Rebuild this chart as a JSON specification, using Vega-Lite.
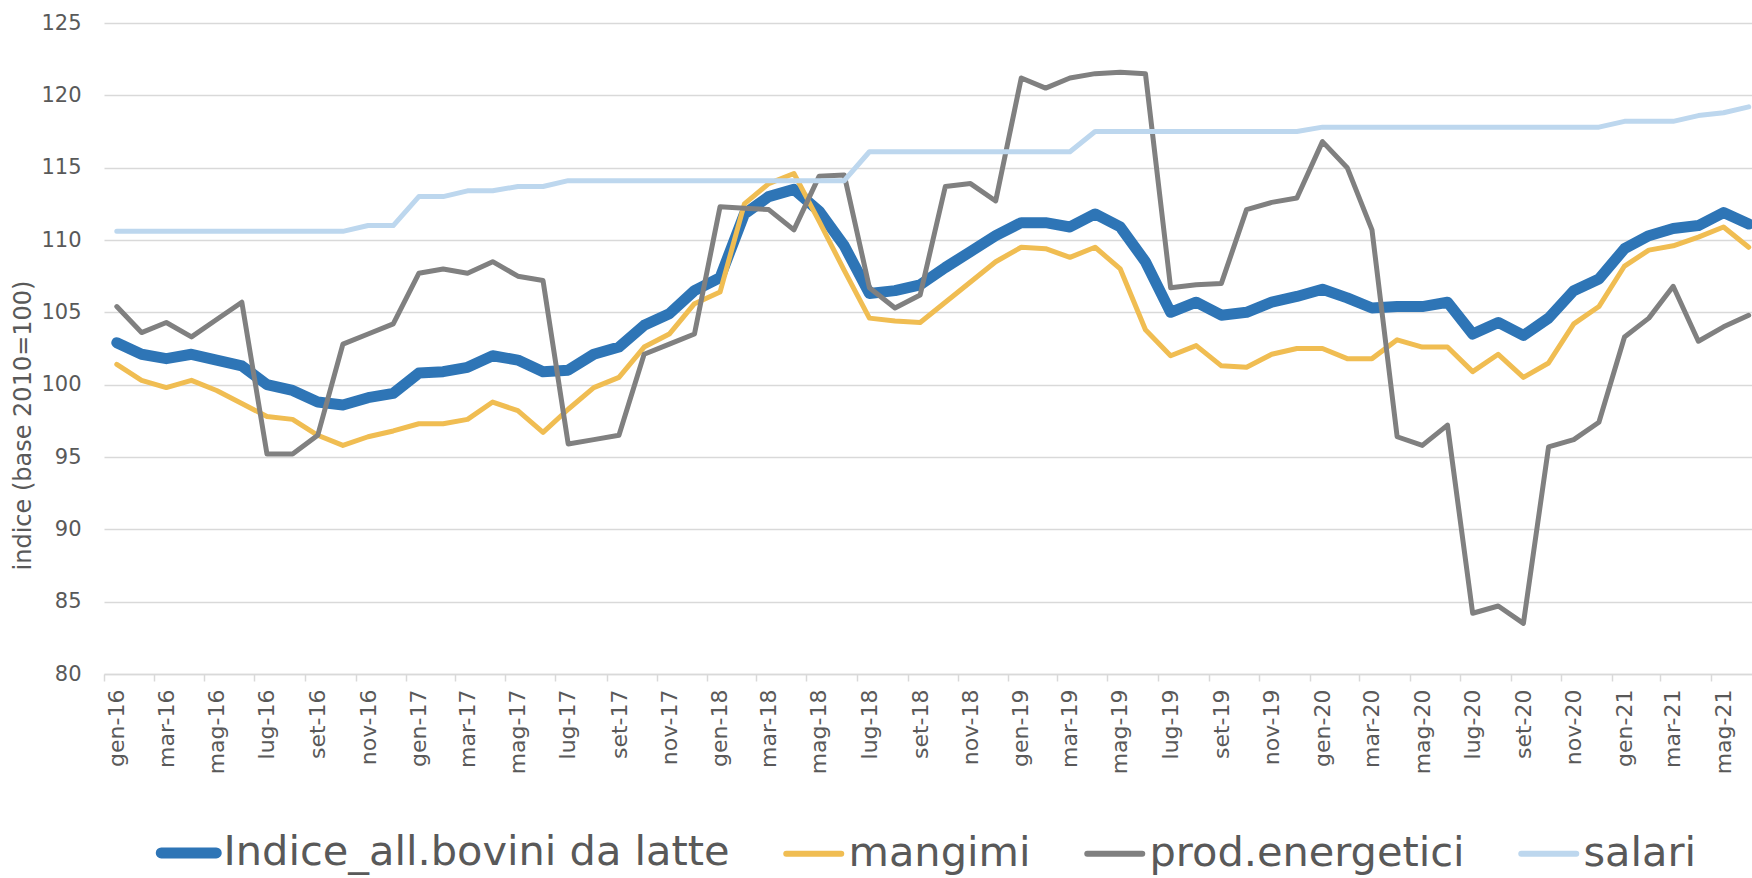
{
  "$schema": "https://vega.github.io/schema/vega-lite/v6.json",
  "autosize": {"type": "none"},
  "padding": {"left": 104, "top": 23, "right": 0, "bottom": 204},
  "width": 1648,
  "height": 651,
  "background": "white",
  "config": {
    "view": {"stroke": null},
    "font": "DejaVu Sans"
  },
  "data": {
    "format": {"parse": {"mese": "date:'%Y-%m'"}},
    "values": [
      {"mese": "2016-01", "indice": 102.9, "mangimi": 101.4, "energia": 105.4, "salari": 110.6},
      {"mese": "2016-02", "indice": 102.1, "mangimi": 100.3, "energia": 103.6, "salari": 110.6},
      {"mese": "2016-03", "indice": 101.8, "mangimi": 99.8, "energia": 104.3, "salari": 110.6},
      {"mese": "2016-04", "indice": 102.1, "mangimi": 100.3, "energia": 103.3, "salari": 110.6},
      {"mese": "2016-05", "indice": 101.7, "mangimi": 99.6, "energia": 104.5, "salari": 110.6},
      {"mese": "2016-06", "indice": 101.3, "mangimi": 98.7, "energia": 105.7, "salari": 110.6},
      {"mese": "2016-07", "indice": 100.0, "mangimi": 97.8, "energia": 95.2, "salari": 110.6},
      {"mese": "2016-08", "indice": 99.6, "mangimi": 97.6, "energia": 95.2, "salari": 110.6},
      {"mese": "2016-09", "indice": 98.8, "mangimi": 96.5, "energia": 96.5, "salari": 110.6},
      {"mese": "2016-10", "indice": 98.6, "mangimi": 95.8, "energia": 102.8, "salari": 110.6},
      {"mese": "2016-11", "indice": 99.1, "mangimi": 96.4, "energia": 103.5, "salari": 111.0},
      {"mese": "2016-12", "indice": 99.4, "mangimi": 96.8, "energia": 104.2, "salari": 111.0},
      {"mese": "2017-01", "indice": 100.8, "mangimi": 97.3, "energia": 107.7, "salari": 113.0},
      {"mese": "2017-02", "indice": 100.9, "mangimi": 97.3, "energia": 108.0, "salari": 113.0},
      {"mese": "2017-03", "indice": 101.2, "mangimi": 97.6, "energia": 107.7, "salari": 113.4},
      {"mese": "2017-04", "indice": 102.0, "mangimi": 98.8, "energia": 108.5, "salari": 113.4},
      {"mese": "2017-05", "indice": 101.7, "mangimi": 98.2, "energia": 107.5, "salari": 113.7},
      {"mese": "2017-06", "indice": 100.9, "mangimi": 96.7, "energia": 107.2, "salari": 113.7},
      {"mese": "2017-07", "indice": 101.0, "mangimi": 98.3, "energia": 95.9, "salari": 114.1},
      {"mese": "2017-08", "indice": 102.1, "mangimi": 99.8, "energia": 96.2, "salari": 114.1},
      {"mese": "2017-09", "indice": 102.6, "mangimi": 100.5, "energia": 96.5, "salari": 114.1},
      {"mese": "2017-10", "indice": 104.1, "mangimi": 102.6, "energia": 102.1, "salari": 114.1},
      {"mese": "2017-11", "indice": 104.9, "mangimi": 103.5, "energia": 102.8, "salari": 114.1},
      {"mese": "2017-12", "indice": 106.5, "mangimi": 105.6, "energia": 103.5, "salari": 114.1},
      {"mese": "2018-01", "indice": 107.4, "mangimi": 106.4, "energia": 112.3, "salari": 114.1},
      {"mese": "2018-02", "indice": 111.8, "mangimi": 112.5, "energia": 112.2, "salari": 114.1},
      {"mese": "2018-03", "indice": 113.0, "mangimi": 113.9, "energia": 112.1, "salari": 114.1},
      {"mese": "2018-04", "indice": 113.5, "mangimi": 114.6, "energia": 110.7, "salari": 114.1},
      {"mese": "2018-05", "indice": 112.0, "mangimi": 111.3, "energia": 114.4, "salari": 114.1},
      {"mese": "2018-06", "indice": 109.6, "mangimi": 107.9, "energia": 114.5, "salari": 114.1},
      {"mese": "2018-07", "indice": 106.3, "mangimi": 104.6, "energia": 106.7, "salari": 116.1},
      {"mese": "2018-08", "indice": 106.5, "mangimi": 104.4, "energia": 105.3, "salari": 116.1},
      {"mese": "2018-09", "indice": 106.9, "mangimi": 104.3, "energia": 106.2, "salari": 116.1},
      {"mese": "2018-10", "indice": 108.1, "mangimi": 105.7, "energia": 113.7, "salari": 116.1},
      {"mese": "2018-11", "indice": 109.2, "mangimi": 107.1, "energia": 113.9, "salari": 116.1},
      {"mese": "2018-12", "indice": 110.3, "mangimi": 108.5, "energia": 112.7, "salari": 116.1},
      {"mese": "2019-01", "indice": 111.2, "mangimi": 109.5, "energia": 121.2, "salari": 116.1},
      {"mese": "2019-02", "indice": 111.2, "mangimi": 109.4, "energia": 120.5, "salari": 116.1},
      {"mese": "2019-03", "indice": 110.9, "mangimi": 108.8, "energia": 121.2, "salari": 116.1},
      {"mese": "2019-04", "indice": 111.8, "mangimi": 109.5, "energia": 121.5, "salari": 117.5},
      {"mese": "2019-05", "indice": 110.9, "mangimi": 108.0, "energia": 121.6, "salari": 117.5},
      {"mese": "2019-06", "indice": 108.5, "mangimi": 103.8, "energia": 121.5, "salari": 117.5},
      {"mese": "2019-07", "indice": 105.0, "mangimi": 102.0, "energia": 106.7, "salari": 117.5},
      {"mese": "2019-08", "indice": 105.7, "mangimi": 102.7, "energia": 106.9, "salari": 117.5},
      {"mese": "2019-09", "indice": 104.8, "mangimi": 101.3, "energia": 107.0, "salari": 117.5},
      {"mese": "2019-10", "indice": 105.0, "mangimi": 101.2, "energia": 112.1, "salari": 117.5},
      {"mese": "2019-11", "indice": 105.7, "mangimi": 102.1, "energia": 112.6, "salari": 117.5},
      {"mese": "2019-12", "indice": 106.1, "mangimi": 102.5, "energia": 112.9, "salari": 117.5},
      {"mese": "2020-01", "indice": 106.6, "mangimi": 102.5, "energia": 116.8, "salari": 117.8},
      {"mese": "2020-02", "indice": 106.0, "mangimi": 101.8, "energia": 115.0, "salari": 117.8},
      {"mese": "2020-03", "indice": 105.3, "mangimi": 101.8, "energia": 110.7, "salari": 117.8},
      {"mese": "2020-04", "indice": 105.4, "mangimi": 103.1, "energia": 96.4, "salari": 117.8},
      {"mese": "2020-05", "indice": 105.4, "mangimi": 102.6, "energia": 95.8, "salari": 117.8},
      {"mese": "2020-06", "indice": 105.7, "mangimi": 102.6, "energia": 97.2, "salari": 117.8},
      {"mese": "2020-07", "indice": 103.5, "mangimi": 100.9, "energia": 84.2, "salari": 117.8},
      {"mese": "2020-08", "indice": 104.3, "mangimi": 102.1, "energia": 84.7, "salari": 117.8},
      {"mese": "2020-09", "indice": 103.4, "mangimi": 100.5, "energia": 83.5, "salari": 117.8},
      {"mese": "2020-10", "indice": 104.6, "mangimi": 101.5, "energia": 95.7, "salari": 117.8},
      {"mese": "2020-11", "indice": 106.5, "mangimi": 104.2, "energia": 96.2, "salari": 117.8},
      {"mese": "2020-12", "indice": 107.3, "mangimi": 105.4, "energia": 97.4, "salari": 117.8},
      {"mese": "2021-01", "indice": 109.4, "mangimi": 108.2, "energia": 103.3, "salari": 118.2},
      {"mese": "2021-02", "indice": 110.3, "mangimi": 109.3, "energia": 104.6, "salari": 118.2},
      {"mese": "2021-03", "indice": 110.8, "mangimi": 109.6, "energia": 106.8, "salari": 118.2},
      {"mese": "2021-04", "indice": 111.0, "mangimi": 110.2, "energia": 103.0, "salari": 118.6},
      {"mese": "2021-05", "indice": 111.9, "mangimi": 110.9, "energia": 104.0, "salari": 118.8},
      {"mese": "2021-06", "indice": 111.1, "mangimi": 109.5, "energia": 104.8, "salari": 119.2}
    ]
  },
  "transform": [
    {"fold": ["indice", "mangimi", "energia", "salari"], "as": ["serie", "valore"]}
  ],
  "encoding": {
    "x": {
      "field": "mese",
      "timeUnit": "yearmonth",
      "type": "temporal",
      "bandPosition": 0.5,
      "title": null,
      "scale": {
        "domain": [{"year": 2016, "month": 1, "date": 1}, {"year": 2021, "month": 6, "date": 20}],
        "nice": false
      },
      "axis": {
        "tickCount": {"interval": "month", "step": 2},
        "labelExpr": "['gen','feb','mar','apr','mag','giu','lug','ago','set','ott','nov','dic'][month(datum.value)] + '-' + timeFormat(datum.value, '%y')",
        "labelAngle": -90,
        "labelOffset": 12.5,
        "labelPadding": 8,
        "labelFont": "DejaVu Sans",
        "labelFontSize": 22,
        "labelColor": "#595959",
        "labelOverlap": false,
        "labelFlush": false,
        "labelBound": false,
        "grid": false,
        "domainColor": "#d9d9d9",
        "domainWidth": 1.5,
        "tickColor": "#d9d9d9",
        "tickWidth": 1.5,
        "tickSize": 7
      }
    },
    "y": {
      "field": "valore",
      "type": "quantitative",
      "title": "indice (base 2010=100)",
      "scale": {"domain": [80, 125], "nice": false, "zero": false},
      "axis": {
        "values": [80, 85, 90, 95, 100, 105, 110, 115, 120, 125],
        "domain": false,
        "ticks": false,
        "grid": true,
        "gridColor": "#d9d9d9",
        "gridWidth": 1.5,
        "labelPadding": 23,
        "labelFont": "DejaVu Sans",
        "labelFontSize": 21,
        "labelColor": "#595959",
        "titleFont": "DejaVu Sans",
        "titleFontSize": 24,
        "titleFontWeight": "normal",
        "titleColor": "#595959",
        "titleX": -81,
        "titleY": 402,
        "titleBaseline": "middle",
        "titleAlign": "center",
        "titleAngle": 270
      }
    },
    "color": {
      "field": "serie",
      "type": "nominal",
      "scale": {
        "domain": ["indice", "mangimi", "energia", "salari"],
        "range": ["#2E75B6", "#F0BD52", "#808080", "#BDD7EE"]
      },
      "legend": {
        "orient": "none",
        "legendX": 64,
        "legendY": 809,
        "direction": "horizontal",
        "title": null,
        "symbolType": "stroke",
        "symbolSize": 3025,
        "symbolStrokeWidth": 6,
        "labelFont": "DejaVu Sans",
        "labelFontSize": 41.5,
        "labelColor": "#595959",
        "labelOffset": 14,
        "labelLimit": 1000,
        "columnPadding": 44,
        "labelExpr": "datum.value === 'indice' ? 'Indice_all.bovini da latte' : (datum.value === 'energia' ? 'prod.energetici' : datum.value)",
        "encode": {
          "symbols": {
            "update": {
              "strokeWidth": {"signal": "datum.value === 'indice' ? 11 : 6"},
              "strokeCap": {"value": "round"}
            }
          }
        }
      }
    }
  },
  "layer": [
    {
      "transform": [{"filter": "datum.serie === 'indice'"}],
      "mark": {"type": "line", "strokeWidth": 11, "strokeJoin": "round", "strokeCap": "round", "clip": true}
    },
    {
      "transform": [{"filter": "datum.serie !== 'indice'"}],
      "mark": {"type": "line", "strokeWidth": 5, "strokeJoin": "round", "strokeCap": "round", "clip": true}
    }
  ]
}
